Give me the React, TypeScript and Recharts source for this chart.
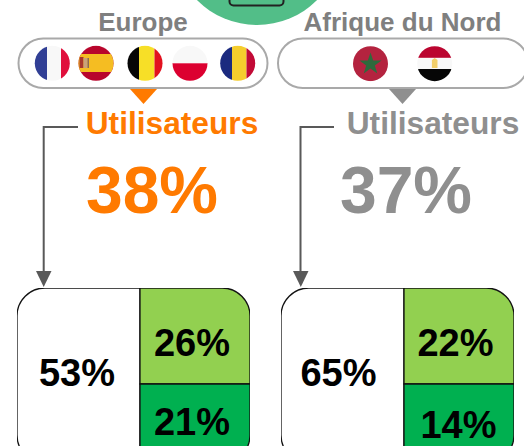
import { Rectangle, Treemap } from 'recharts';

// Printed shares of each region's users
const europeLabels = ['53%', '26%', '21%'];
const afriqueLabels = ['65%', '22%', '14%'];
const boxAreas = [53, 26, 21];
const cellColors = ['#ffffff', '#92d050', '#00b050'];

const regions = ['Europe', 'Afrique du Nord'];
const usersShare = ['38%', '37%'];
const usersLabel = 'Utilisateurs';

const europeData = europeLabels.map((label, i) => ({ name: label, size: boxAreas[i], color: cellColors[i] }));
const afriqueData = afriqueLabels.map((label, i) => ({ name: label, size: boxAreas[i], color: cellColors[i] }));

const R = 28;
const FONT = '"Liberation Sans", Arial, sans-serif';

// the labels are not quite centred in their cells in the original
const europeNudge = [[-1.5, 10], [-3, 20], [-3, 11]];
const afriqueNudge = [[-4, 10], [-3.5, 20], [-0.5, 14]];

const Cell = (props: any) => {
  const { x, y, width, height, name, color, index, nudge } = props;
  if (!name || name === 'root' || color === undefined) return null;
  const radius = index === 0 ? [R, 0, 0, R] : index === 1 ? [0, R, 0, 0] : [0, 0, R, 0];
  const [dx, dy] = nudge[index];
  return (
    <g>
      <Rectangle x={x} y={y} width={width} height={height} radius={radius as any} fill={color} stroke="#111" strokeWidth={1.3} isAnimationActive={false} />
      <text x={x + width / 2 + dx} y={y + height / 2 + dy} textAnchor="middle" fontFamily={FONT} fontWeight={700} fontSize={38} fill="#000" stroke="none">
        {name}
      </text>
    </g>
  );
};

const Box = ({ data, left, nudge }: { data: any[]; left: number; nudge: number[][] }) => (
  <div style={{ position: 'absolute', left, top: 288 }}>
    <Treemap width={233} height={175} data={data} dataKey="size" nameKey="name" aspectRatio={1} isAnimationActive={false} content={<Cell nudge={nudge} />} />
  </div>
);

const Flag = ({ id, cx, cy, children }: any) => (
  <g>
    <clipPath id={id}>
      <circle cx={cx} cy={cy} r={17.5} />
    </clipPath>
    <g clipPath={`url(#${id})`}>{children}</g>
  </g>
);

const Flags = () => {
  const cy = 63.3;
  const top = cy - 18;
  const h = 36;
  return (
    <g>
      <Flag id="fr" cx={52.3} cy={cy}>
        <rect x={34} y={top} width={13} height={h} fill="#313f95" />
        <rect x={47} y={top} width={14} height={h} fill="#f8f8f8" />
        <rect x={61} y={top} width={10} height={h} fill="#e0103c" />
      </Flag>
      <Flag id="es" cx={96} cy={cy}>
        <rect x={78} y={top} width={36} height={h} fill="#b8052c" />
        <rect x={78} y={54} width={36} height={18} fill="#f5bd22" />
        <rect x={79.5} y={57} width={4} height={11} fill="#a8372c" />
        <rect x={83.5} y={58} width={4} height={10} fill="#c9a27a" />
        <rect x={87.5} y={58} width={1.5} height={10} fill="#8a6a55" />
      </Flag>
      <Flag id="be" cx={145} cy={cy}>
        <rect x={127} y={top} width={12} height={h} fill="#060606" />
        <rect x={139} y={top} width={15.5} height={h} fill="#f7df27" />
        <rect x={154.5} y={top} width={10} height={h} fill="#e2111f" />
      </Flag>
      <Flag id="pl" cx={190} cy={cy}>
        <rect x={172} y={top} width={36} height={18} fill="#f8f8f8" />
        <rect x={172} y={cy} width={36} height={18} fill="#dc0030" />
      </Flag>
      <Flag id="ro" cx={237.7} cy={cy}>
        <rect x={220} y={top} width={12} height={h} fill="#1b2a7f" />
        <rect x={232} y={top} width={14.5} height={h} fill="#f5cd2d" />
        <rect x={246.5} y={top} width={10} height={h} fill="#c20a36" />
      </Flag>
      <Flag id="ma" cx={370.5} cy={63.7}>
        <rect x={352} y={top} width={37} height={h} fill="#b4233f" />
        <polygon points="370.5,52.5 373.2,60.5 381.5,60.5 374.8,65.5 377.3,73.5 370.5,68.6 363.7,73.5 366.2,65.5 359.5,60.5 367.8,60.5" fill="#2e6a3c" />
      </Flag>
      <Flag id="eg" cx={434.7} cy={63.7}>
        <rect x={416} y={top} width={37} height={12.5} fill="#bb0530" />
        <rect x={416} y={58.5} width={37} height={10.5} fill="#f8f8f8" />
        <rect x={416} y={69} width={37} height={14} fill="#060606" />
        <polygon points="434.7,58 437.5,60 437.5,68 431.9,68 431.9,60" fill="#f2cf6a" />
      </Flag>
    </g>
  );
};

const Overlay = () => (
  <svg width={524} height={446} style={{ position: 'absolute', left: 0, top: 0 }}>
    <circle cx={257} cy={-60} r={85} fill="#52be88" />
    <rect x={229.5} y={-30} width={54} height={35.5} rx={4} fill="#52be88" stroke="#222" strokeWidth={2} />

    <g fontFamily={FONT} fontWeight={700}>
      <text x={143} y={31} textAnchor="middle" fontSize={26} fill="#7f7f7f">{regions[0]}</text>
      <text x={402.5} y={31} textAnchor="middle" fontSize={26} fill="#7f7f7f">{regions[1]}</text>
      <text x={172} y={134} textAnchor="middle" fontSize={31.7} fill="#ff7a00">{usersLabel}</text>
      <text x={433} y={134} textAnchor="middle" fontSize={31.7} fill="#8f8f8f">{usersLabel}</text>
      <text x={152} y={213} textAnchor="middle" fontSize={66} fill="#ff7a00">{usersShare[0]}</text>
      <text x={406} y={213} textAnchor="middle" fontSize={66} fill="#8f8f8f">{usersShare[1]}</text>
    </g>

    <rect x={18.5} y={38.5} width={249} height={49.5} rx={24.7} fill="#fff" stroke="#a9a9a9" strokeWidth={2} />
    <rect x={278} y={38.5} width={250} height={49.5} rx={24.7} fill="#fff" stroke="#a9a9a9" strokeWidth={2} />
    <Flags />
    <polygon points="130,89 157,89 143.5,104" fill="#ff7a00" />
    <polygon points="389,89 416,89 402.5,104" fill="#8f8f8f" />

    <polyline points="78,127 43.7,127 43.7,274" fill="none" stroke="#595959" strokeWidth={2} />
    <polygon points="36,271 51.5,271 43.7,287" fill="#595959" />
    <polyline points="334,127 300.5,127 300.5,274" fill="none" stroke="#595959" strokeWidth={2} />
    <polygon points="293,271 308.5,271 300.8,287" fill="#595959" />
  </svg>
);

export default function App() {
  return (
    <div style={{ position: 'fixed', left: 0, top: 0, width: 524, height: 446, overflow: 'hidden', background: '#fff' }}>
      <Overlay />
      <Box data={europeData} left={17} nudge={europeNudge} />
      <Box data={afriqueData} left={280.5} nudge={afriqueNudge} />
    </div>
  );
}
